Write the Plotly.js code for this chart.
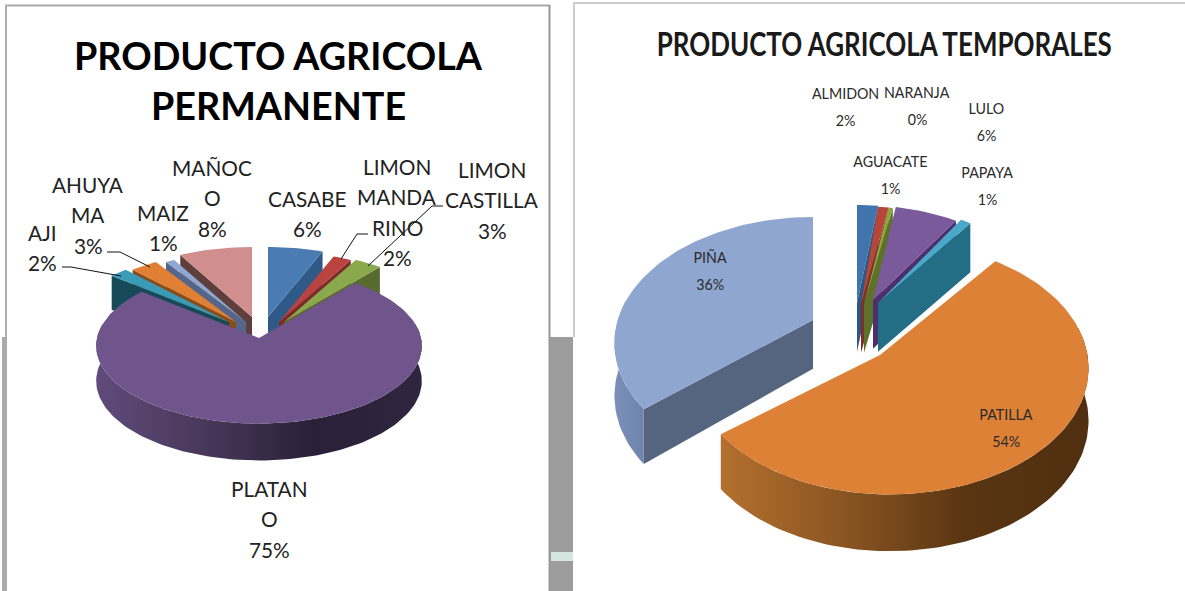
<!DOCTYPE html>
<html><head><meta charset="utf-8">
<script src="https://cdn.plot.ly/plotly-3.0.1.min.js"></script>
<style>html,body{margin:0;padding:0;background:#fff}#c{width:1185px;height:591px}</style>
</head><body><div id="c"></div>
<script>
// ---- data ----
const permCategories = ['CASABE','LIMON MANDARINO','LIMON CASTILLA','PLATANO','AJI','AHUYAMA','MAIZ','MAÑOCO'];
const permValues = [6,2,3,75,2,3,1,8];
const tempCategories = ['ALMIDON','AGUACATE','NARANJA','LULO','PAPAYA','PATILLA','PIÑA'];
const tempValues = [2,1,0.4,6,1,54,36];
const titleLeft = ['PRODUCTO AGRICOLA','PERMANENTE'];
const titleRight = ['PRODUCTO AGRICOLA TEMPORALES'];

// ---- styling and layout (not data) ----
const permStyle = {
  centre:[261,339], rx:162, ry:77, k:0.1, depth:35,
  top:['#4a7bb3','#b8433f','#8aa84c','#70558c','#3a9bb8','#e08034','#8fa8d2','#d08e8c'],
  wall:['#2f5a88','#7d2a28','#566b2d','#2f2540','#174a58','#8a4d1a','#56658a','#5f3e3e'],
  grad:{3:['#604b7c','#483859','#2a2038','#2f2540']},
  offset:[[7,-22],[18,-17],[23,-17],[-2,-1],[-32,-17],[-25,-17],[-15,-17],[-9,-22]],
  apexShift:[[0,0],[0,0],[0,0],[0,0],[0,0],[0,0],[0,0],[0,0]],
  order:[0,1,2,7,6,5,4,3]
};
const tempStyle = {
  centre:[890,348], rx:196, ry:123, k:0.16, depth:52,
  top:['#3f74ad','#b8453a','#8aa63c','#7a5a9a','#4aa8c8','#dc8136','#8fa6d0'],
  wall:['#2c5683','#7d2f28','#5d7228','#4d2f6e','#236d85','#7a4a1c','#56657f'],
  grad:{5:['#b4702e','#8a5522','#5a3512','#4f2f10'],6:['#7b90b8','#6f84ac']},
  offset:[[-33,-37],[-33,-36],[-33,-36],[-30,-37],[-25,-38],[0,0],[-77,-25]],
  apexShift:[[0,-8],[4,-8],[7,-8],[13,-11],[13,-7],[-10,7],[0,-3]],
  order:[0,1,2,3,4,6,5]
};
const permLabels = [
 {c:0,t:['CASABE'],x:307,y:198},{c:1,t:['LIMON','MANDA','RINO'],x:397,y:166},
 {c:2,t:['LIMON','CASTILLA'],x:492,y:169},{c:3,t:['PLATAN','O'],x:269,y:488},
 {c:4,t:['AJI'],x:42,y:232},{c:5,t:['AHUYA','MA'],x:88,y:184},
 {c:6,t:['MAIZ'],x:163,y:212},{c:7,t:['MAÑOC','O'],x:212,y:167}];
const tempLabels = [
 {c:0,t:['ALMIDON'],x:845,y:93},{c:1,t:['AGUACATE'],x:890,y:161},{c:2,t:['NARANJA'],x:917,y:92},
 {c:3,t:['LULO'],x:986,y:108},{c:4,t:['PAPAYA'],x:987,y:172},{c:5,t:['PATILLA'],x:1006,y:414},{c:6,t:['PIÑA'],x:710,y:257}];
const leaders = [
 {x:[62,71,121],y:[267,267,276]},{x:[107,120,150],y:[252,252,267]},
 {x:[368,357,341],y:[234,234,259]},{x:[443,432,368],y:[206,206,266]}];

// ---- build the marks from the values, through the axes ----
const traces = [];
function poly(xs,ys,color,grad){
  const t = {x:xs,y:ys,mode:'lines',fill:'toself',line:{width:0,color:color},fillcolor:color,hoverinfo:'skip',showlegend:false,type:'scatter'};
  if(grad){ t.fillgradient={type:'horizontal',colorscale:grad.map((c,i)=>[i/(grad.length-1),c])}; }
  traces.push(t);
}
function drawPie(cats,vals,s){
  const total = vals.reduce((a,b)=>a+b,0);
  let acc = 0;
  const slices = vals.map((v,i)=>{const a0=acc/total*2*Math.PI; acc+=v; return {i,a0,a1:acc/total*2*Math.PI};});
  const proj = (t,off,dz)=>{
    const X=Math.sin(t),Y=Math.cos(t),f=1/(1+s.k*Y);
    return [s.centre[0]+off[0]+s.rx*X*f, s.centre[1]+off[1]-s.ry*Y*f+(dz?s.depth*Math.sqrt(f):0)];
  };
  s.order.forEach(i=>{
    const sl=slices[i],off=s.offset[i],sh=s.apexShift[i];
    const apex=[s.centre[0]+off[0]+sh[0],s.centre[1]+off[1]+sh[1]];
    const fb=Math.sqrt(1/(1+s.k*0.85));
    const apexLow=[apex[0],apex[1]+s.depth*fb];
    const n=Math.max(3,Math.ceil((sl.a1-sl.a0)/0.03));
    const ts=[];for(let j=0;j<=n;j++)ts.push(sl.a0+(sl.a1-sl.a0)*j/n);
    const span=sl.a1-sl.a0, mid=(sl.a0+sl.a1)/2;
    // cut face
    if(span<Math.PI){
      const e=mid>Math.PI?sl.a0:sl.a1;
      const p=proj(e,off,false),q=proj(e,off,true);
      poly([apex[0],p[0],q[0],apexLow[0],apex[0]],[apex[1],p[1],q[1],apexLow[1],apex[1]],s.wall[i]);
    }
    // outer wall: only the part that faces the viewer
    const front=ts.filter(t=>Math.cos(t)<0.2);
    if(front.length>1){
      const up=front.map(t=>proj(t,off,false)),dn=front.map(t=>proj(t,off,true)).reverse();
      const pts=up.concat(dn);pts.push(up[0]);
      poly(pts.map(p=>p[0]),pts.map(p=>p[1]),s.wall[i],s.grad[i]);
    }
    // top face
    const arc=ts.map(t=>proj(t,off,false));
    const pts=[apex].concat(arc);pts.push(apex);
    poly(pts.map(p=>p[0]),pts.map(p=>p[1]),s.top[i]);
  });
  return total;
}
const pT=drawPie(permCategories,permValues,permStyle);
const tT=drawPie(tempCategories,tempValues,tempStyle);
leaders.forEach(l=>traces.push({x:l.x,y:l.y,mode:'lines',line:{color:'#111',width:1},hoverinfo:'skip',showlegend:false,type:'scatter'}));

const ann=[], squeeze=[];
function txt(x,y,t,size,family,color,weight,sq){
  ann.push({x,y,xref:'x',yref:'y',text:t,showarrow:false,xanchor:'center',yanchor:'middle',
    font:{size,family,color,weight:weight||400}});
  squeeze.push(sq||null);
}
permLabels.forEach(l=>{
  const lines=l.t.concat([Math.round(permValues[l.c]/pT*100)+'%']);
  lines.forEach((t,i)=>txt(l.x,l.y+i*30.5,t,20.8,'Lato, sans-serif','#222'));
});
tempLabels.forEach(l=>{
  const lines=l.t.concat([Math.round(tempValues[l.c]/tT*100)+'%']);
  lines.forEach((t,i)=>txt(l.x,l.y+i*27,t,15.5,'Lato, sans-serif','#2a2a2a',400,0.92));
});
titleLeft.forEach((t,i)=>txt(278,55+i*50,t,37.7,'Lato, sans-serif','#000',700));
titleRight.forEach(t=>txt(884,43,t,33,'Lato, sans-serif','#1a1a1a',700,0.787));

const shapes=[
 {type:'rect',x0:2,x1:7,y0:337,y1:591,fillcolor:'#aaaaaa',line:{width:0},layer:'below'},
 {type:'rect',x0:550,x1:573,y0:337,y1:591,fillcolor:'#9c9c9c',line:{width:0},layer:'below'},
 {type:'rect',x0:551,x1:573,y0:552,y1:561,fillcolor:'#d5e5df',line:{width:0},layer:'below'},
 {type:'line',x0:5,x1:550,y0:5.5,y1:5.5,line:{color:'#aaa',width:2},layer:'below'},
 {type:'line',x0:6,x1:6,y0:5,y1:337,line:{color:'#b0b0b0',width:2},layer:'below'},
 {type:'line',x0:549.5,x1:549.5,y0:5,y1:591,line:{color:'#999',width:2},layer:'below'},
 {type:'line',x0:573,x1:1185,y0:3,y1:3,line:{color:'#ccc',width:2},layer:'below'},
 {type:'line',x0:574,x1:574,y0:3,y1:337,line:{color:'#ccc',width:2},layer:'below'}
];
const layout={width:1185,height:591,margin:{l:0,r:0,t:0,b:0},paper_bgcolor:'#fff',plot_bgcolor:'#fff',showlegend:false,
 xaxis:{range:[0,1185],visible:false,fixedrange:true},yaxis:{range:[591,0],visible:false,fixedrange:true},annotations:ann,shapes};
Plotly.newPlot('c',traces,layout,{displayModeBar:false,staticPlot:true}).then(()=>{
  document.querySelectorAll('#c .annotation').forEach(g=>{
    const sq=squeeze[+g.getAttribute('data-index')];
    const el=g.querySelector('text');
    if(sq&&el){
      const b=el.getBBox(), cx=b.x+b.width/2;
      el.setAttribute('transform','translate('+cx+',0) scale('+sq+',1) translate('+(-cx)+',0)');
    }
  });
});
</script></body></html>
